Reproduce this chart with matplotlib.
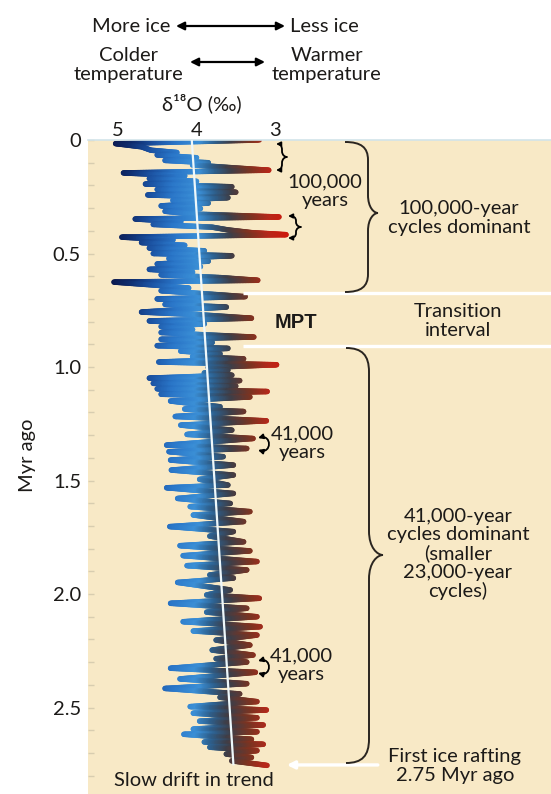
import numpy as np
import matplotlib
matplotlib.use("Agg")
import matplotlib.pyplot as plt
from matplotlib.collections import LineCollection
from matplotlib.colors import LinearSegmentedColormap, Normalize
from matplotlib.path import Path
from matplotlib.patches import PathPatch, FancyArrowPatch

# benthic d18O stack (Myr ago, per mil)
age = [0.000, 0.016, 0.030, 0.045, 0.055, 0.066, 0.078, 0.090, 0.100, 0.110,
       0.122, 0.133, 0.145, 0.158, 0.170, 0.182, 0.194, 0.206, 0.218, 0.230,
       0.242, 0.254, 0.266, 0.278, 0.290, 0.302, 0.314, 0.326, 0.339, 0.348,
       0.360, 0.372, 0.384, 0.396, 0.408, 0.417, 0.428, 0.440, 0.452, 0.464,
       0.476, 0.488, 0.500, 0.510, 0.522, 0.534, 0.546, 0.558, 0.570, 0.582,
       0.594, 0.606, 0.618, 0.626, 0.640, 0.652, 0.664, 0.676, 0.690, 0.700,
       0.712, 0.724, 0.736, 0.748, 0.758, 0.770, 0.785, 0.797, 0.810, 0.822,
       0.835, 0.848, 0.858, 0.868, 0.878, 0.892, 0.906, 0.918, 0.930, 0.942,
       0.954, 0.964, 0.978, 0.990, 1.002, 1.014, 1.026, 1.036, 1.049, 1.060,
       1.072, 1.084, 1.096, 1.108, 1.120, 1.132, 1.150, 1.175, 1.185, 1.196,
       1.218, 1.237, 1.256, 1.278, 1.297, 1.315, 1.344, 1.359, 1.373, 1.395,
       1.410, 1.432, 1.454, 1.476, 1.495, 1.520, 1.532, 1.557, 1.579, 1.601,
       1.615, 1.637, 1.652, 1.681, 1.703, 1.725, 1.745, 1.770, 1.787, 1.810,
       1.831, 1.857, 1.875, 1.894, 1.916, 1.930, 1.949, 1.982, 2.004, 2.019,
       2.041, 2.063, 2.080, 2.100, 2.122, 2.144, 2.163, 2.181, 2.203, 2.225,
       2.247, 2.269, 2.285, 2.300, 2.327, 2.345, 2.374, 2.395, 2.416, 2.440,
       2.455, 2.474, 2.496, 2.511, 2.525, 2.545, 2.560, 2.577, 2.595, 2.607,
       2.618, 2.640, 2.652, 2.662, 2.675, 2.690, 2.705, 2.720, 2.735, 2.755]
d18o = [3.20, 5.03, 4.70, 4.58, 4.25, 4.50, 4.00, 4.40, 3.85, 4.05,
        3.55, 3.08, 4.93, 4.15, 4.60, 4.00, 4.65, 3.55, 4.50, 3.50,
        4.62, 3.60, 4.30, 3.85, 4.45, 3.95, 4.40, 4.05, 2.95, 4.78,
        4.20, 4.55, 3.80, 3.60, 3.30, 2.86, 4.95, 4.30, 4.70, 4.15,
        4.60, 3.90, 4.55, 3.55, 4.35, 3.85, 4.50, 3.95, 4.60, 4.05,
        4.45, 3.70, 3.22, 5.05, 4.50, 4.10, 4.45, 3.95, 3.38, 4.50,
        3.95, 4.40, 3.62, 4.25, 4.70, 3.95, 3.30, 4.60, 3.90, 4.45,
        4.05, 4.45, 3.90, 3.27, 4.45, 3.80, 4.50, 3.60, 4.20, 3.70,
        4.05, 3.40, 4.48, 2.98, 3.85, 3.60, 3.90, 3.55, 4.60, 3.45,
        4.55, 3.50, 4.50, 3.10, 4.45, 3.32, 4.33, 3.70, 4.15, 3.40,
        4.27, 3.11, 4.20, 3.55, 4.12, 3.28, 4.38, 3.36, 4.35, 3.66,
        4.33, 3.53, 4.32, 3.53, 3.96, 3.60, 4.38, 3.53, 4.24, 3.57,
        4.08, 3.32, 4.04, 3.40, 4.34, 3.53, 3.83, 3.40, 4.21, 3.32,
        4.17, 3.23, 4.12, 3.36, 3.83, 3.53, 4.24, 3.57, 3.87, 3.20,
        4.33, 3.36, 3.87, 3.23, 4.17, 3.19, 4.04, 3.23, 3.75, 3.32,
        3.80, 3.28, 3.75, 3.36, 4.33, 3.25, 4.21, 3.36, 4.40, 3.45,
        3.70, 3.23, 4.08, 3.11, 4.04, 3.23, 3.96, 3.15, 4.04, 3.23,
        4.16, 3.30, 3.90, 3.15, 3.83, 3.23, 3.62, 3.30, 3.55, 3.10]

# slow drift of the mean
trend_age = [0.0, 2.75]
trend_d18o = [4.06, 3.53]

mpt_bounds = [0.674, 0.907]   # transition interval
ice_rafting_age = 2.753

y_ticks = [0, 0.5, 1.0, 1.5, 2.0, 2.5]
y_ticklabels = ["0", "0.5", "1.0", "1.5", "2.0", "2.5"]
x_ticks = [5, 4, 3]

W, H = 551, 794
fnt = ["Lato", "Noto Sans", "DejaVu Sans"]
txt = "#1c1a18"
plt.rcParams["font.family"] = fnt

fig = plt.figure(figsize=(W / 100, H / 100), dpi=100)
ax = fig.add_axes([88 / W, 0, 1 - 88 / W, (H - 140) / H])
ax.set_facecolor("#f8e9c6")
ax.set_xlim(5.382, -0.516)
ax.set_ylim(2.881, 0)

# blue (cold) -> red (warm) along the value axis
cmap = LinearSegmentedColormap.from_list("ice", [
    (0.00, "#d0180c"), (0.11, "#b8281a"), (0.22, "#7a3422"),
    (0.33, "#3e3e48"), (0.42, "#2d5f8c"), (0.51, "#3b8fd6"),
    (0.64, "#2a76c8"), (0.77, "#1a4f9e"), (0.88, "#0f2d6e"), (1.00, "#0a1548")])
norm = Normalize(2.85, 5.1)

# split every straight piece of the curve so the colour can run along it
segs, vals = [], []
for i in range(len(age) - 1):
    n = int(abs(d18o[i + 1] - d18o[i]) / 0.02) + 2
    xs = np.linspace(d18o[i], d18o[i + 1], n + 1)
    ys = np.linspace(age[i], age[i + 1], n + 1)
    for j in range(n):
        segs.append([(xs[j], ys[j]), (xs[j + 1], ys[j + 1])])
        vals.append(0.5 * (xs[j] + xs[j + 1]))
lc = LineCollection(segs, cmap=cmap, norm=norm, linewidths=3.9, capstyle="round")
lc.set_array(np.array(vals))
ax.add_collection(lc)

ax.plot(trend_d18o, trend_age, color="#eef8fb", lw=1.6, zorder=3)
ax.hlines(mpt_bounds, 3.41, -0.6, color="white", lw=2.4, zorder=3)
ax.annotate("", xy=(2.85, ice_rafting_age), xytext=(1.69, ice_rafting_age),
            arrowprops=dict(arrowstyle="-|>", color="white", lw=2.4,
                            mutation_scale=11, shrinkA=0, shrinkB=0))

ax.set_yticks(y_ticks, y_ticklabels)
ax.set_yticks(np.arange(0.1, 2.85, 0.1), minor=True)
ax.tick_params(axis="y", which="both", direction="in", length=4, width=1,
               color="#d8cdb0", labelsize=14.5, labelcolor=txt, pad=5)
ax.xaxis.tick_top()
ax.set_xticks(x_ticks)
ax.tick_params(axis="x", length=0, labelsize=14.5, labelcolor=txt, pad=1)
for s in ["left", "right", "bottom"]:
    ax.spines[s].set_visible(False)
ax.spines["top"].set_color("#d2e4ea")
ax.spines["top"].set_linewidth(1.2)

# overlay in pixel units for the notes
ov = fig.add_axes([0, 0, 1, 1])
ov.set_xlim(0, W)
ov.set_ylim(H, 0)
ov.axis("off")
ov.patch.set_alpha(0)

def note(x, y, s, ls=1.1, **kw):
    kw.setdefault("ha", "center")
    kw.setdefault("fontsize", 14.5)
    ov.text(x, y, s, va="center", color=txt, linespacing=ls, **kw)

def arrow(x0, y0, x1, y1, style="<|-|>", ms=12):
    ov.annotate("", xy=(x1, y1), xytext=(x0, y0),
                arrowprops=dict(arrowstyle=style, color="k", lw=1.6,
                                mutation_scale=ms, shrinkA=0, shrinkB=0))

def brace(x_end, x_sp, y0, y1, xtip, ytip, r, lw=1.4, ends=False):
    dx = x_sp - x_end
    verts = [(x_end, y0),
             (x_end + 0.7 * dx, y0), (x_sp, y0 + 0.3 * r), (x_sp, y0 + r),
             (x_sp, ytip - r),
             (x_sp, ytip - 0.3 * r), (xtip - 0.4 * (xtip - x_sp), ytip), (xtip, ytip),
             (xtip - 0.4 * (xtip - x_sp), ytip), (x_sp, ytip + 0.3 * r), (x_sp, ytip + r),
             (x_sp, y1 - r),
             (x_sp, y1 - 0.3 * r), (x_end + 0.7 * dx, y1), (x_end, y1)]
    codes = [Path.MOVETO] + [Path.CURVE4] * 3 + [Path.LINETO] + [Path.CURVE4] * 6 \
        + [Path.LINETO] + [Path.CURVE4] * 3
    p = Path(verts, codes)
    if ends:
        ov.add_patch(FancyArrowPatch(path=p, arrowstyle="<|-|>", mutation_scale=6,
                                     color="k", lw=lw))
    else:
        ov.add_patch(PathPatch(p, fill=False, color="#2a2520", lw=lw))

def hook(x, y0, y1, bulge):
    p = Path([(x, y0), (x + bulge, y0 - 4), (x + bulge, y1 + 4), (x, y1)],
             [Path.MOVETO, Path.CURVE4, Path.CURVE4, Path.CURVE4])
    ov.add_patch(FancyArrowPatch(path=p, arrowstyle="<|-|>", mutation_scale=7,
                                 color="k", lw=1.3))

# header
note(170, 26, "More ice", ha="right")
arrow(176, 26, 285, 26)
note(290, 26, "Less ice", ha="left")
note(128, 65, "Colder\ntemperature", ls=1.15)
arrow(190, 62, 265, 62)
note(327, 65, "Warmer\ntemperature", ls=1.15)
note(202, 103, "δ¹⁸O (‰)")
note(28, 455, "Myr ago", rotation=90)

# right-hand notes
brace(276, 282, 144, 170, 287, 157, 6, lw=1.3, ends=True)
brace(288, 296, 216, 238, 301, 227, 5, lw=1.3, ends=True)
note(325, 191, "100,000\nyears")
brace(345, 368, 142, 292, 378, 213, 18)
note(459, 218, "100,000-year\ncycles dominant")
note(296, 322, "MPT", family=["Liberation Sans", "DejaVu Sans"], fontweight="bold")
note(458, 321, "Transition\ninterval")
hook(258, 438, 450, 14)
note(302, 443, "41,000\nyears")
hook(258, 661, 673, 14)
note(301, 665, "41,000\nyears")
brace(346, 369, 348, 763, 383, 555, 24)
note(458, 554, "41,000-year\ncycles dominant\n(smaller\n23,000-year\ncycles)", ls=1.1)
note(455, 766, "First ice rafting\n2.75 Myr ago")
note(194, 780, "Slow drift in trend")

fig.savefig("out.png", dpi=100)
